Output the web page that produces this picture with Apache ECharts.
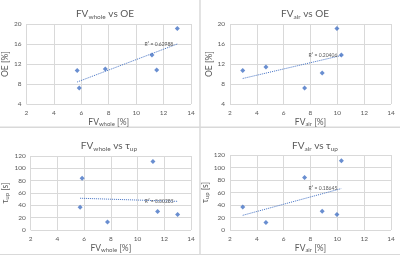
<!DOCTYPE html>
<html>
<head>
<meta charset="utf-8">
<script src="https://cdn.jsdelivr.net/npm/echarts@6/dist/echarts.min.js"></script>
<style>
html, body { margin: 0; padding: 0; background: #fff; }
#chart { width: 400px; height: 255px; }
</style>
</head>
<body>
<div id="chart"></div>
<script>
// values
var fvWhole = [5.7, 5.85, 7.75, 11.15, 11.5, 13.0];
var oeWhole = [10.7, 7.2, 11.0, 13.8, 10.8, 19.1];
var tauWhole = [37, 84, 13, 111, 30, 25];

var fvAir = [2.95, 4.68, 7.56, 8.87, 9.97, 10.3];
var oeAir = [10.7, 11.4, 7.2, 10.2, 19.1, 13.8];
var tauAir = [37, 12, 84, 30, 25, 111];

// dotted trend lines, end points
var trendOeWhole = [[5.7, 8.4], [13.0, 16.0]];
var trendOeAir = [[2.95, 9.1], [10.3, 13.7]];
var trendTauWhole = [[5.7, 51.5], [13.0, 46.5]];
var trendTauAir = [[2.95, 23.5], [10.3, 66.3]];

var r2Labels = ['R² = 0.62988', 'R² = 0.20406', 'R² = 0.00285', 'R² = 0.18645'];

var xTicks = [2, 4, 6, 8, 10, 12, 14];
var oeTicks = [4, 8, 12, 16, 20];
var tauTicks = [0, 20, 40, 60, 80, 100, 120];

var blue = '#4472C4';
var txt = '#595959';
var gridCol = '#D9D9D9';
var font = 'Lato, "Liberation Sans", sans-serif';

function pairs(xs, ys) {
	return xs.map(function (x, i) { return [x, ys[i]]; });
}

var rich = {
	a: { fontSize: 10, color: txt, fontFamily: font, fontWeight: 'normal', lineHeight: 12 },
	s: { fontSize: 6.5, color: txt, fontFamily: font, fontWeight: 'normal', padding: [5, 0, 0, 0] },
	n: { fontSize: 8.5, color: txt, fontFamily: font, lineHeight: 11 },
	ns: { fontSize: 6, color: txt, fontFamily: font, padding: [4, 0, 0, 0] }
};

function xAxis(i, sub) {
	return {
		gridIndex: i, type: 'value', min: xTicks[0], max: xTicks[xTicks.length - 1],
		interval: xTicks[1] - xTicks[0],
		name: '{n|FV}{ns|' + sub + '}{n| [%]}',
		nameLocation: 'middle', nameGap: 13,
		nameTextStyle: { rich: rich },
		axisLine: { show: false }, axisTick: { show: false },
		axisLabel: { color: txt, fontSize: 6.5, fontFamily: font, margin: 5 },
		splitLine: { show: true, lineStyle: { color: gridCol, width: 1 } }
	};
}

function yAxis(i, ticks, name, gap) {
	return {
		gridIndex: i, type: 'value', min: ticks[0], max: ticks[ticks.length - 1],
		interval: ticks[1] - ticks[0],
		name: name, nameLocation: 'middle', nameGap: gap,
		nameTextStyle: { rich: rich },
		axisLine: { show: false }, axisTick: { show: false },
		axisLabel: { color: txt, fontSize: 6.5, fontFamily: font, margin: 5 },
		splitLine: { show: true, lineStyle: { color: gridCol, width: 1 } }
	};
}

function dots(i, data) {
	return {
		type: 'scatter', xAxisIndex: i, yAxisIndex: i, data: data,
		symbol: 'diamond', symbolSize: 5, itemStyle: { color: blue }, silent: true
	};
}

function trend(i, data, label) {
	return {
		type: 'line', xAxisIndex: i, yAxisIndex: i, silent: true,
		showSymbol: true, symbol: 'circle', symbolSize: 0.1,
		data: data.map(function (p, k) {
			if (k < data.length - 1) return p;
			return { value: p, label: { show: true, formatter: label, position: 'left', distance: 4,
				fontSize: 5, color: txt, fontFamily: font } };
		}),
		lineStyle: { color: blue, width: 1, type: [1, 1] }
	};
}

function title(text, x, y) {
	return { text: text, left: x, top: y, textAlign: 'center',
		textStyle: { fontWeight: 'normal', rich: rich } };
}

function box(x, y, w, h) {
	return { type: 'rect', shape: { x: x, y: y, width: w, height: h }, silent: true,
		style: { fill: 'none', stroke: gridCol, lineWidth: 1 } };
}

var myChart = echarts.init(document.getElementById('chart'), null, { renderer: 'canvas' });

myChart.setOption({
	backgroundColor: '#fff',
	animation: false,
	graphic: [box(-1, -1, 201, 128), box(200, -1, 201, 128), box(-1, 127.5, 201, 127), box(200, 127.5, 201, 127)],
	title: [
		title('{a|FV}{s|whole}{a| vs OE}', 100, 3),
		title('{a|FV}{s|air}{a| vs OE}', 300, 3),
		title('{a|FV}{s|whole}{a| vs τ}{s|up}', 104, 135),
		title('{a|FV}{s|air}{a| vs τ}{s|up}', 310, 135)
	],
	grid: [
		{ left: 26, top: 24, width: 165, height: 80 },
		{ left: 230, top: 24, width: 161, height: 80 },
		{ left: 26, top: 156, width: 165, height: 74 },
		{ left: 230, top: 155, width: 161, height: 75 }
	],
	xAxis: [xAxis(0, 'whole'), xAxis(1, 'air'), xAxis(2, 'whole'), xAxis(3, 'air')],
	yAxis: [
		yAxis(0, oeTicks, '{n|OE [%]}', 10),
		yAxis(1, oeTicks, '{n|OE [%]}', 9),
		yAxis(2, tauTicks, '{n|τ}{ns|up}{n| [s]}', 14),
		yAxis(3, tauTicks, '{n|τ}{ns|up}{n| [s]}', 16)
	],
	series: [
		trend(0, trendOeWhole, r2Labels[0]),
		trend(1, trendOeAir, r2Labels[1]),
		trend(2, trendTauWhole, r2Labels[2]),
		trend(3, trendTauAir, r2Labels[3]),
		dots(0, pairs(fvWhole, oeWhole)),
		dots(1, pairs(fvAir, oeAir)),
		dots(2, pairs(fvWhole, tauWhole)),
		dots(3, pairs(fvAir, tauAir))
	]
});

window.addEventListener('resize', function () {
	myChart.resize();
});
</script>
</body>
</html>
